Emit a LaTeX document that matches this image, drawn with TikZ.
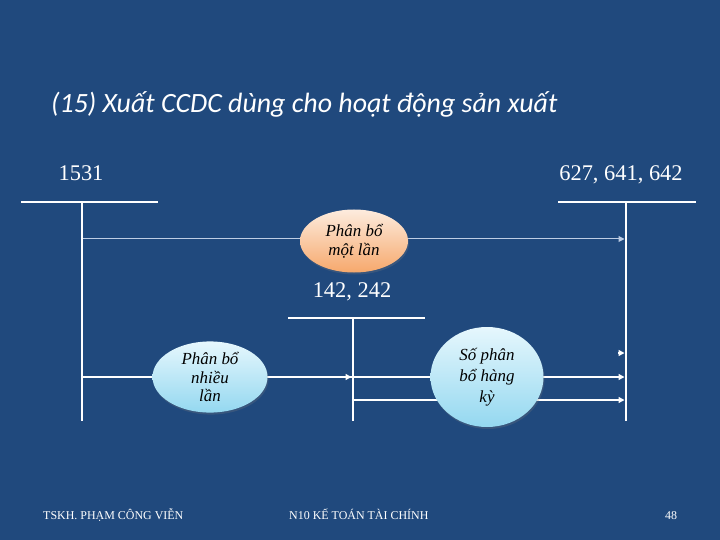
\documentclass[tikz,border=0pt]{standalone}
\usepackage{fontspec}
\setmainfont{Liberation Serif}
\newfontfamily\titlefont{Carlito}
\usetikzlibrary{arrows.meta,shapes.geometric,shadows}
\definecolor{bg}{RGB}{32,73,125}
\definecolor{peachtop}{RGB}{253,236,222}
\definecolor{peachbot}{RGB}{246,168,108}
\definecolor{cyantop}{RGB}{230,247,253}
\definecolor{cyanbot}{RGB}{148,216,240}
\definecolor{thinline}{RGB}{190,205,228}
\begin{document}
\begin{tikzpicture}[x=1bp,y=-1bp,
  acct/.style={draw=white,line width=2.6bp},
  conn/.style={draw=white,line width=1.3bp},
  thinconn/.style={draw=thinline,line width=1bp},
  tip/.style={-{Triangle[length=6bp,width=6bp]}},
  bub/.style={ellipse,inner sep=0pt,align=center,text=black,
    font=\fontsize{17}{19}\selectfont\itshape,
    drop shadow={opacity=0.25,shadow xshift=1bp,shadow yshift=-2bp}},
  orangebub/.style={bub,top color=peachtop,bottom color=peachbot},
  cyanbub/.style={bub,top color=cyantop,bottom color=cyanbot},
  num/.style={text=white,font=\fontsize{22.5}{26}\selectfont,inner sep=0pt,anchor=base},
  foot/.style={text=white,font=\fontsize{12}{14}\selectfont,inner sep=0pt,anchor=base west}
]
\fill[bg] (0,0) rectangle (720,540);
\useasboundingbox (0,0) rectangle (720,540);

% title
\node[anchor=base west,text=white,inner sep=0pt,font=\titlefont\itshape\fontsize{28}{32}\selectfont] (title) at (51,113) {(15) Xuất CCDC dùng cho hoạt động sản xuất};

% account labels
\node[num] (a1531) at (81,181) {1531};
\node[num] (a627) at (621,181) {627, 641, 642};
\node[num] (a142) at (352,297) {142, 242};

% T-accounts
\coordinate (LT1) at (21,202); \coordinate (LT2) at (158,202);
\coordinate (LV1) at (82,202); \coordinate (LV2) at (82,421);
\coordinate (RT1) at (558,202); \coordinate (RT2) at (696,202);
\coordinate (RV1) at (626,202); \coordinate (RV2) at (626,421);
\coordinate (MT1) at (288,318); \coordinate (MT2) at (425,318);
\coordinate (MV1) at (353,318); \coordinate (MV2) at (353,421);
\draw[acct] (LT1) -- (LT2);
\draw[acct] (LV1) -- (LV2);
\draw[acct] (RT1) -- (RT2);
\draw[acct] (RV1) -- (RV2);
\draw[acct] (MT1) -- (MT2);
\draw[acct] (MV1) -- (MV2);

% connector end points
\coordinate (L1) at (83,239); \coordinate (R1) at (624.5,239);
\coordinate (L2) at (83,377); \coordinate (M2) at (351.5,377);
\coordinate (M2b) at (354,377); \coordinate (R2) at (624.5,377);
\coordinate (M3) at (354,400); \coordinate (R3) at (624.5,400);
\coordinate (R4s) at (618,353); \coordinate (R4) at (624.5,353);

% connectors (drawn under the bubbles)
\draw[thinconn,tip] (L1) -- (R1);
\draw[conn] (L2) -- (M2b);
\draw[conn,tip] (L2) -- (M2);
\draw[conn,tip] (M2b) -- (R2);
\draw[conn,tip] (M3) -- (R3);
\draw[conn,tip] (R4s) -- (R4);

% bubbles
\node[orangebub,minimum width=108bp,minimum height=63bp] (mot) at (354,241) {Phân bổ\\một lần};
\node[cyanbub,minimum width=115bp,minimum height=66bp] (nhieu) at (210,377) {Phân bổ\\nhiều\\lần};
\node[cyanbub,minimum width=113bp,minimum height=100bp,font=\fontsize{17}{21}\selectfont\itshape] (so) at (487,377) {Số phân\\bổ hàng\\kỳ};

% footer
\node[foot] (f1) at (43,519) {TSKH. PHẠM CÔNG VIỄN};
\node[foot] (f2) at (289,519) {N10 KẾ TOÁN TÀI CHÍNH};
\node[foot] (f3) at (665,519) {48};
\end{tikzpicture}
\end{document}
